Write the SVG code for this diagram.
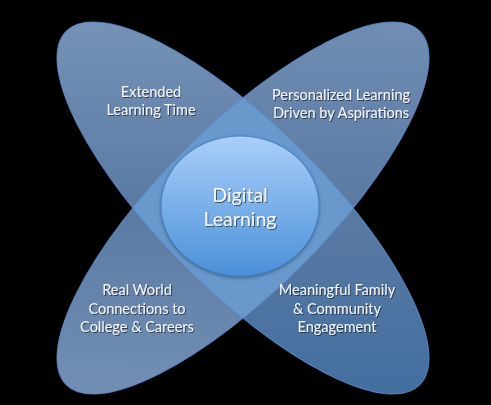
<svg xmlns="http://www.w3.org/2000/svg" width="491" height="405" viewBox="0 0 491 405">
<style>
.lbl{font-family:Lato,"Open Sans","Liberation Sans",sans-serif;font-size:14.5px;fill:#f3f5f8;text-anchor:middle;filter:url(#ts)}
.big{font-size:19.5px}
.edge{fill:none;stroke:#5f92d2;stroke-opacity:0.75;stroke-width:1}
</style>
<defs>
<linearGradient id="g1" gradientUnits="userSpaceOnUse" x1="70" y1="35" x2="420" y2="385">
<stop offset="0" stop-color="#7e99bc"/>
<stop offset="0.5" stop-color="#5a7aa3"/>
<stop offset="1" stop-color="#3a6b9f"/>
</linearGradient>
<linearGradient id="g2" gradientUnits="userSpaceOnUse" x1="60" y1="385" x2="425" y2="30">
<stop offset="0" stop-color="#7b96ba"/>
<stop offset="0.5" stop-color="#5a7aa3"/>
<stop offset="1" stop-color="#7893b8"/>
</linearGradient>
<linearGradient id="gc" x1="0" y1="0" x2="0" y2="1">
<stop offset="0" stop-color="#aacff9"/>
<stop offset="1" stop-color="#4a90d9"/>
</linearGradient>
<clipPath id="c1"><ellipse cx="243" cy="208" rx="250" ry="82" transform="rotate(45 243 208)"/></clipPath>
<filter id="ts" x="-10%" y="-30%" width="120%" height="160%">
<feDropShadow dx="1" dy="1" stdDeviation="0.7" flood-color="#000" flood-opacity="0.55"/>
</filter>
<filter id="cs" x="-20%" y="-20%" width="140%" height="140%">
<feDropShadow dx="0" dy="1.5" stdDeviation="1.5" flood-color="#1d3f66" flood-opacity="0.6"/>
</filter>
</defs>
<rect width="491" height="405" fill="#000"/>
<g id="ellipse-a">
<ellipse cx="243" cy="208" rx="250" ry="82" transform="rotate(45 243 208)" fill="url(#g1)"/>
</g>
<g id="ellipse-b">
<ellipse cx="243" cy="208" rx="250" ry="82" transform="rotate(-45 243 208)" fill="url(#g2)"/>
</g>
<g id="overlap" clip-path="url(#c1)">
<ellipse cx="243" cy="208" rx="250" ry="82" transform="rotate(-45 243 208)" fill="#6898cc"/>
</g>
<g id="outlines">
<ellipse class="edge" cx="243" cy="208" rx="250" ry="82" transform="rotate(45 243 208)"/>
<ellipse class="edge" cx="243" cy="208" rx="250" ry="82" transform="rotate(-45 243 208)"/>
</g>
<g id="node-extended">
<text class="lbl" x="151" y="97">Extended</text>
<text class="lbl" x="151" y="115">Learning Time</text>
</g>
<g id="node-personalized">
<text class="lbl" x="341" y="100">Personalized Learning</text>
<text class="lbl" x="341" y="118">Driven by Aspirations</text>
</g>
<g id="node-realworld">
<text class="lbl" x="137" y="295">Real World</text>
<text class="lbl" x="137" y="313.5">Connections to</text>
<text class="lbl" x="137" y="332">College &amp; Careers</text>
</g>
<g id="node-family">
<text class="lbl" x="337" y="295">Meaningful Family</text>
<text class="lbl" x="337" y="313.5">&amp; Community</text>
<text class="lbl" x="337" y="332">Engagement</text>
</g>
<g id="node-digital">
<ellipse cx="240" cy="206" rx="79" ry="70" fill="url(#gc)" stroke="#4a82bf" stroke-width="1" filter="url(#cs)"/>
<text class="lbl big" x="240" y="202">Digital</text>
<text class="lbl big" x="240" y="226">Learning</text>
</g>
</svg>
